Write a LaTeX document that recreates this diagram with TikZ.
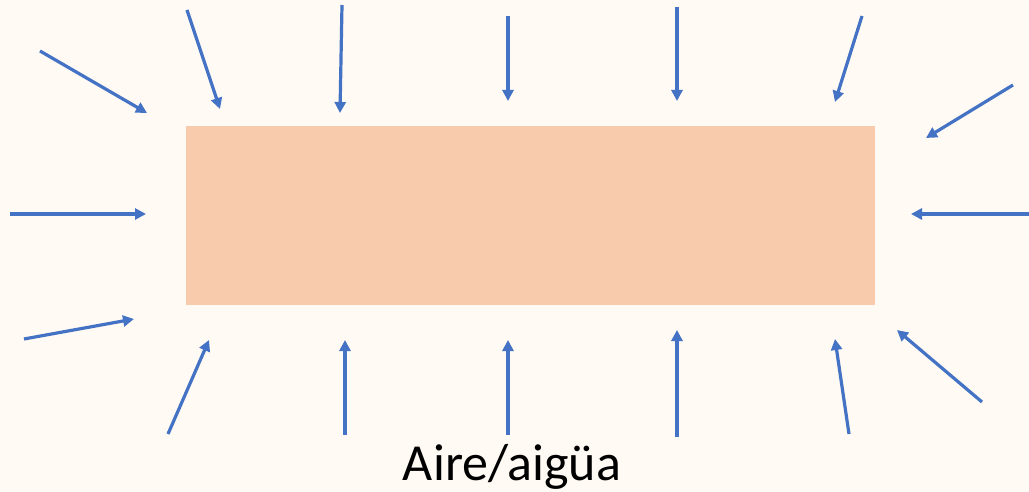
\documentclass[tikz,border=0pt]{standalone}
\usepackage{fontspec}
\setmainfont{Carlito}
\usetikzlibrary{arrows.meta}
\definecolor{bg}{HTML}{FFFAF3}
\definecolor{slab}{HTML}{F8CBAD}
\definecolor{arr}{HTML}{4472C4}
\begin{document}
\begin{tikzpicture}[x=1pt,y=-1pt,
  flow/.style={draw=arr,line width=3.2pt,-{Triangle[length=11pt,width=11pt]}}]
\fill[bg] (0,0) rectangle (1029,492);
\useasboundingbox (0,0) rectangle (1029,492);
\node[fill=slab,minimum width=689pt,minimum height=179pt,inner sep=0pt,anchor=north west] (slab) at (186,126) {};
\node[anchor=base,font=\fontsize{52pt}{52pt}\selectfont,inner sep=0pt] (lbl) at (512,480) {Aire/aigüa};
\foreach \n/\sx/\sy/\ex/\ey in {
 a/40/51/147/113, b/187/10/220/109, c/342/5/340/113, d/508/16/508/101,
 e/677/7/677/101, f/862/16/835/102, g/1013/85/926/138, h/10/214/146/214,
 i/1029/214/911/214, j/24/339/134/319, k/168/434/209/340, l/345/435/345/340,
 m/508/435/508/340, n/677/437/677/330, o/849/434/835/339, p/982/402/897/330}{
  \coordinate (s\n) at (\sx,\sy);
  \coordinate (e\n) at (\ex,\ey);
  \draw[flow] (s\n) -- (e\n);
}
\end{tikzpicture}
\end{document}
